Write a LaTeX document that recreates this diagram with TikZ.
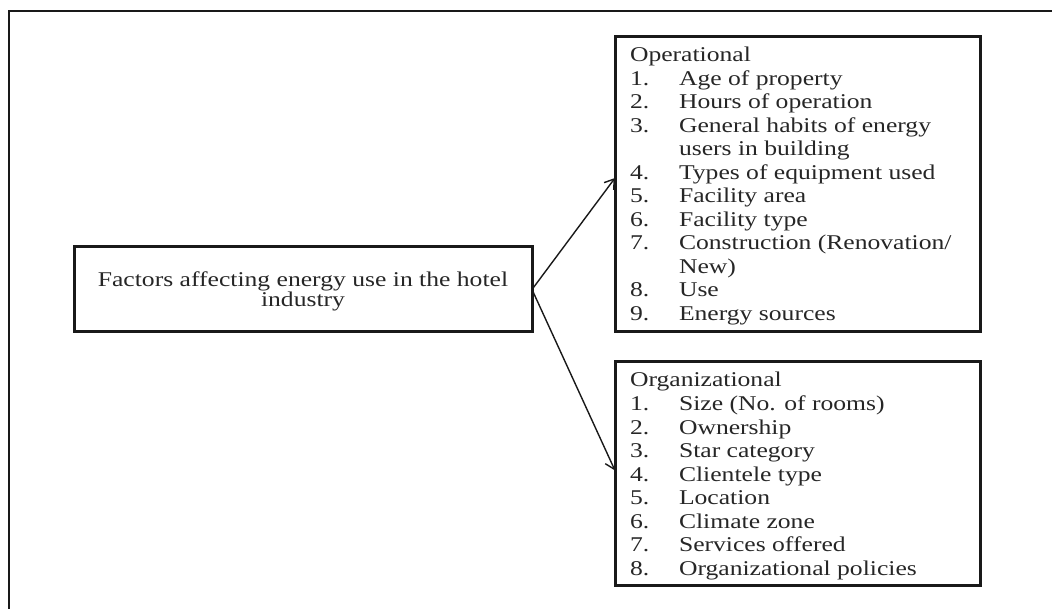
\documentclass[tikz,border=0pt]{standalone}
\usepackage{fontspec}
\setmainfont{Liberation Serif}[FakeStretch=1.22]
\usetikzlibrary{arrows.meta,calc}
\begin{document}
\begin{tikzpicture}[x=1pt,y=-1pt,
  frameline/.style={line width=2.6pt, color=black!90},
  box/.style={draw, line width=3pt, color=black!90, inner sep=0pt, outer sep=0pt},
  txt/.style={font=\fontsize{21}{23.5}\selectfont, inner sep=0pt, outer sep=0pt, text=black!85},
  conn/.style={line width=1.4pt, color=black!90, -{Straight Barb[length=9pt,width=12pt,line width=1.4pt]}}
]
\useasboundingbox (0,0) rectangle (1052,609);
\coordinate (ftr) at (1052,11);
\coordinate (ftl) at (9,11);
\coordinate (fbl) at (9,609);
\draw[frameline] (ftr) -- (ftl) -- (fbl);

% main box
\node[box, minimum width=458pt, minimum height=85pt] (main) at (303,289.5) {};
\node[txt, anchor=base] (m1) at (303,287) {Factors affecting energy use in the hotel};
\node[txt, anchor=base] (m2) at (303,307) {industry};

% operational box
\node[box, minimum width=365pt, minimum height=295pt] (op) at (797.5,184.5) {};
\node[txt, anchor=base west] (oh) at (630,62) {Operational};
\foreach \k/\n/\t in {1/1./{Age of property}, 2/2./{Hours of operation}, 3/3./{General habits of energy}, 4//{users in building}, 5/4./{Types of equipment used}, 6/5./{Facility area}, 7/6./{Facility type}, 8/7./{Construction (Renovation/}, 9//{New)}, 10/8./{Use}, 11/9./{Energy sources}}{
  \node[txt, anchor=base west] (on\k) at (630,{62+23.5*\k}) {\n};
  \node[txt, anchor=base west] (ot\k) at (679,{62+23.5*\k}) {\t};
}

% organizational box
\node[box, minimum width=365pt, minimum height=223pt] (org) at (797.5,473.5) {};
\node[txt, anchor=base west] (gh) at (630,387) {Organizational};
\foreach \k/\t in {1/{Size (No. of rooms)}, 2/Ownership, 3/{Star category}, 4/{Clientele type}, 5/Location, 6/{Climate zone}, 7/{Services offered}, 8/{Organizational policies}}{
  \node[txt, anchor=base west] (gn\k) at (630,{387+23.5*\k}) {\k.};
  \node[txt, anchor=base west] (gt\k) at (679,{387+23.5*\k}) {\t};
}

% connectors
\coordinate (opin) at ([yshift=6.5pt]op.west);
\coordinate (orgin) at ([yshift=3pt]org.west);
\draw[conn] (main.east) -- (opin);
\draw[conn] (main.east) -- (orgin);
\end{tikzpicture}
\end{document}
